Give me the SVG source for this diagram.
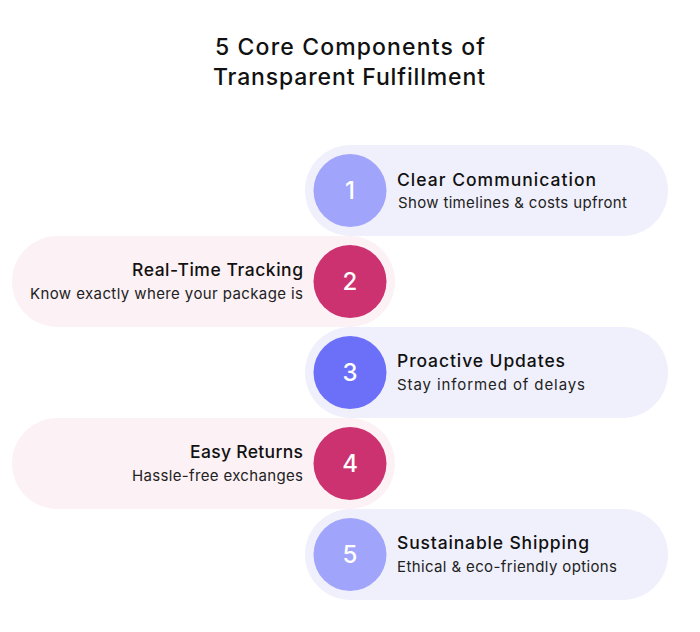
<svg xmlns="http://www.w3.org/2000/svg" width="700" height="632" viewBox="0 0 700 632">
<style>
.title{font-family:Inter,"Liberation Sans",sans-serif;font-size:23px;font-weight:500;fill:#111}
.h{font-family:Inter,"Liberation Sans",sans-serif;font-size:17.5px;font-weight:500;fill:#111}
.s{font-family:Inter,"Liberation Sans",sans-serif;font-size:15px;fill:#222}
.n{font-family:Inter,"Liberation Sans",sans-serif;font-size:24px;font-weight:500;fill:#fff;text-anchor:middle}
.pb{fill:#F0F0FC}
.pp{fill:#FCF1F5}
</style>
<rect width="700" height="632" fill="#fff"/>
<text class="title" x="215" y="55" textLength="270" lengthAdjust="spacing">5 Core Components of</text>
<text class="title" x="213" y="85" textLength="272" lengthAdjust="spacing">Transparent Fulfillment</text>
<g id="connectors"/>
<g id="node1">
<rect class="pb" x="305" y="145" width="363" height="91" rx="45.5"/>
<circle cx="350" cy="190.5" r="36.5" fill="#A1A4FB"/>
<text class="n" x="350" y="199">1</text>
<text class="h" x="397" y="186" textLength="199" lengthAdjust="spacing">Clear Communication</text>
<text class="s" x="398" y="208" textLength="229" lengthAdjust="spacing">Show timelines &amp; costs upfront</text>
</g>
<g id="node2">
<rect class="pp" x="12" y="236" width="383" height="91" rx="45.5"/>
<circle cx="350" cy="281.5" r="36.5" fill="#CD3270"/>
<text class="n" x="350" y="290">2</text>
<text class="h" x="132" y="276" textLength="171" lengthAdjust="spacing">Real-Time Tracking</text>
<text class="s" x="30" y="299" textLength="273" lengthAdjust="spacing">Know exactly where your package is</text>
</g>
<g id="node3">
<rect class="pb" x="305" y="327" width="363" height="91" rx="45.5"/>
<circle cx="350" cy="372.5" r="36.5" fill="#6C70F8"/>
<text class="n" x="350" y="381">3</text>
<text class="h" x="397" y="367" textLength="168" lengthAdjust="spacing">Proactive Updates</text>
<text class="s" x="397" y="390" textLength="188" lengthAdjust="spacing">Stay informed of delays</text>
</g>
<g id="node4">
<rect class="pp" x="12" y="418" width="383" height="91" rx="45.5"/>
<circle cx="350" cy="463.5" r="36.5" fill="#CD3270"/>
<text class="n" x="350" y="472">4</text>
<text class="h" x="190" y="458" textLength="113" lengthAdjust="spacing">Easy Returns</text>
<text class="s" x="132" y="481" textLength="171" lengthAdjust="spacing">Hassle-free exchanges</text>
</g>
<g id="node5">
<rect class="pb" x="305" y="509" width="363" height="91" rx="45.5"/>
<circle cx="350" cy="554.5" r="36.5" fill="#A1A4FB"/>
<text class="n" x="350" y="563">5</text>
<text class="h" x="397" y="549" textLength="192" lengthAdjust="spacing">Sustainable Shipping</text>
<text class="s" x="397" y="572" textLength="220" lengthAdjust="spacing">Ethical &amp; eco-friendly options</text>
</g>
</svg>
